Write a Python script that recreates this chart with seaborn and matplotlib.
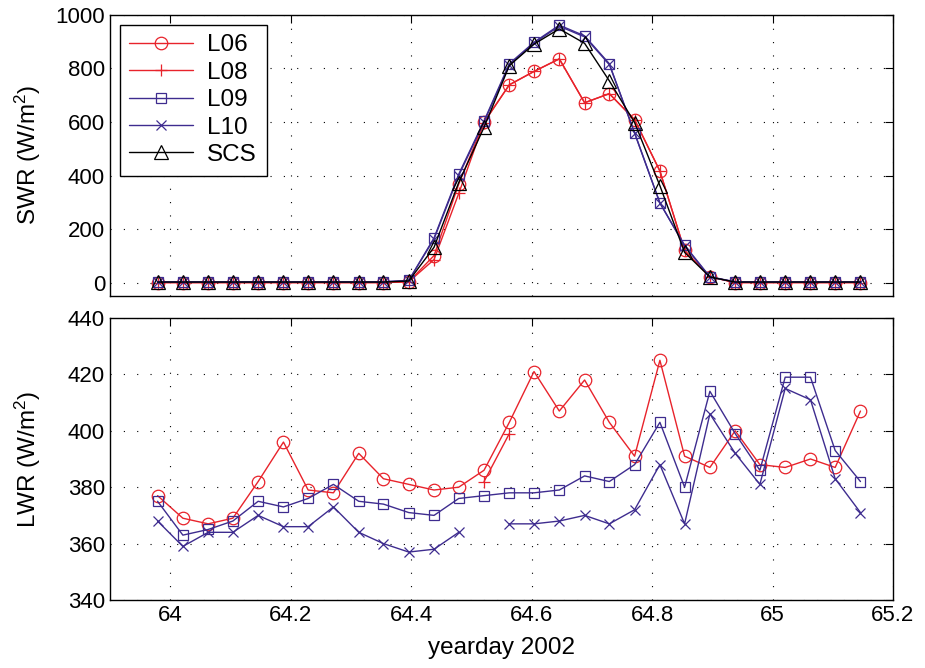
import numpy as np
import pandas as pd
import matplotlib
matplotlib.use("Agg")
import matplotlib.pyplot as plt
import seaborn as sns

nan = np.nan

# hourly sample times (yearday 2002)
time = [63.979, 64.021, 64.063, 64.104, 64.146, 64.188, 64.229, 64.271, 64.313, 64.354,
        64.396, 64.438, 64.479, 64.521, 64.563, 64.604, 64.646, 64.688, 64.729, 64.771,
        64.813, 64.854, 64.896, 64.938, 64.979, 65.021, 65.063, 65.104, 65.146]

# Shortwave radiation (W/m^2)
swr_L06 = [0, 0, 0, 0, 0, 0, 0, 0, 0, 0, 3, 101, 368, 600, 739, 789, 836, 672, 706, 609,
           417, 120, 22, 0, 0, 0, 0, 0, 0]
swr_L08 = [0, 0, 0, 0, 0, 0, 0, 0, 0, 0, 3, 86, 333, 598, 739, 789, 836, 672, 706, 609,
           417, 120, 22, 0, 0, 0, 0, 0, 0]
swr_L09 = [3, 3, 3, 3, 3, 3, 3, 3, 3, 3, 8, 167, 405, 604, 818, 898, 962, 922, 818, 558,
           297, 140, 22, 3, 3, 3, 3, 3, 3]
swr_L10 = [3, 3, 3, 3, 3, 3, 3, 3, 3, 3, 8, 163, 400, 600, 812, 895, 958, 918, 815, 560,
           298, 137, 20, 3, 3, 3, 3, 3, 3]
swr_SCS = [2, 2, 2, 2, 2, 2, 2, 2, 2, 2, 6, 132, 374, 580, 811, 891, 948, 894, 754, 598,
           362, 113, 21, 2, 2, 2, 2, 2, 2]

# Longwave radiation (W/m^2)
lwr_L06 = [377, 369, 367, 369, 382, 396, 379, 378, 392, 383, 381, 379, 380, 386, 403, 421,
           407, 418, 403, 391, 425, 391, 387, 400, 388, 387, 390, 387, 407]
lwr_L08 = [nan, nan, nan, nan, nan, nan, nan, nan, nan, nan, nan, nan, nan, 382, 399, nan,
           nan, nan, nan, nan, nan, nan, nan, nan, nan, nan, nan, nan, nan]
lwr_L09 = [375, 363, 365, 368, 375, 373, 376, 381, 375, 374, 371, 370, 376, 377, 378, 378,
           379, 384, 382, 388, 403, 380, 414, 399, 386, 419, 419, 393, 382]
lwr_L10 = [368, 359, 364, 364, 370, 366, 366, 373, 364, 360, 357, 358, 364, nan, 367, 367,
           368, 370, 367, 372, 388, 367, 406, 392, 381, 415, 411, 383, 371]

names = ["L06", "L08", "L09", "L10", "SCS"]
colors = {"L06": "#E8232B", "L08": "#E8232B", "L09": "#3E2C8F", "L10": "#3E2C8F", "SCS": "#000000"}
markers = {"L06": "o", "L08": "+", "L09": "s", "L10": "x", "SCS": "^"}
msizes = {"L06": 9, "L08": 9, "L09": 7, "L10": 6.5, "SCS": 9.5}

swr = {"L06": swr_L06, "L08": swr_L08, "L09": swr_L09, "L10": swr_L10, "SCS": swr_SCS}
lwr = {"L06": lwr_L06, "L08": lwr_L08, "L09": lwr_L09, "L10": lwr_L10}


def long_df(d):
    rows = []
    for name, vals in d.items():
        seg = 0
        for t, v in zip(time, vals):
            if np.isnan(v):
                seg += 1
                continue
            rows.append({"t": t, "v": v, "name": name, "seg": seg})
    return pd.DataFrame(rows)


sns.set_style("white")
plt.rcParams["font.family"] = ["Liberation Sans", "DejaVu Sans"]
plt.rcParams["mathtext.fontset"] = "custom"
plt.rcParams["mathtext.rm"] = "Liberation Sans"
plt.rcParams["mathtext.it"] = "Liberation Sans"
plt.rcParams["text.color"] = "black"
plt.rcParams["axes.labelcolor"] = "black"

fig = plt.figure(figsize=(9.25, 6.68), dpi=100)
ax1 = fig.add_axes([0.1189, 0.5569, 0.8465, 0.4207])
ax2 = fig.add_axes([0.1189, 0.1018, 0.8465, 0.4222])

for ax, data in ((ax1, swr), (ax2, lwr)):
    df = long_df(data)
    for name in names:
        if name not in data:
            continue
        sub = df[df["name"] == name]
        sns.lineplot(data=sub, x="t", y="v", units="seg", estimator=None, ax=ax,
                     color=colors[name], marker=markers[name], markersize=msizes[name],
                     markerfacecolor="none", markeredgecolor=colors[name],
                     markeredgewidth=0.9, linewidth=1.0, sort=False, label=None)
    ax.set_xlim(63.9, 65.2)
    ax.set_xticks([64, 64.2, 64.4, 64.6, 64.8, 65, 65.2])
    ax.grid(True, color="black", linestyle=(0, (1, 11)), linewidth=0.8)
    ax.tick_params(direction="in", top=True, right=True, length=6, width=0.8,
                   labelsize=16, colors="black")
    for sp in ax.spines.values():
        sp.set_linewidth(1.0)
        sp.set_color("black")
    ax.set_xlabel("")

ax1.set_ylim(-50, 1000)
ax1.set_yticks([0, 200, 400, 600, 800, 1000])
ax1.set_xticklabels([])
ax1.set_ylabel("SWR (W/m$^2$)", fontsize=17.5)

ax2.set_ylim(340, 440)
ax2.set_yticks([340, 360, 380, 400, 420, 440])
ax2.set_xticklabels(["64", "64.2", "64.4", "64.6", "64.8", "65", "65.2"])
ax2.set_ylabel("LWR (W/m$^2$)", fontsize=17.5)
ax2.set_xlabel("yearday 2002", fontsize=17.5, labelpad=8)

ax1.yaxis.set_label_coords(-0.085, 0.5)
ax2.yaxis.set_label_coords(-0.085, 0.5)

# legend from the top-panel lines
handles = ax1.get_lines()[:5]
leg = ax1.legend(handles, names, loc="upper left", fontsize=17.5, frameon=True,
                 fancybox=False, edgecolor="black", framealpha=1, handlelength=2.6,
                 borderaxespad=0.4, labelspacing=0.22, handletextpad=0.6, borderpad=0.4)
leg.get_frame().set_linewidth(1.0)

fig.savefig("out.png", dpi=100)
